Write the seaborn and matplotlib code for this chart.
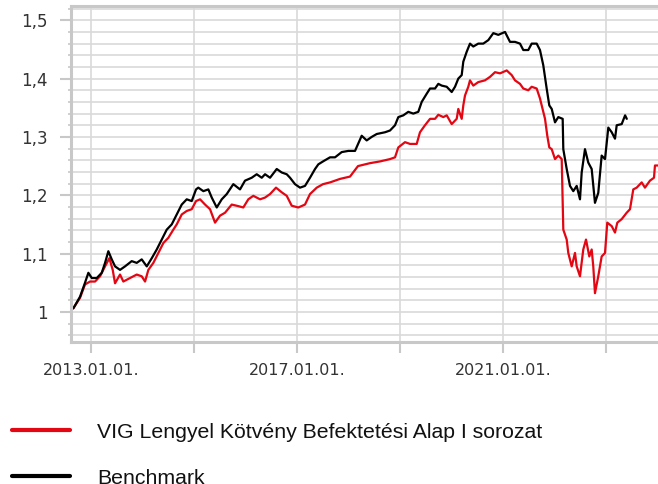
import pandas as pd
import matplotlib
matplotlib.use("Agg")
import matplotlib.pyplot as plt
from matplotlib.ticker import FixedLocator, MultipleLocator, FuncFormatter
from matplotlib.lines import Line2D
import seaborn as sns

fund_name = "VIG Lengyel Kötvény Befektetési Alap I sorozat"
bench_name = "Benchmark"

# decimal years and index values
fund_years = [
    2012.656, 2012.786, 2012.883, 2012.981, 2013.078, 2013.175, 2013.272, 2013.355,
    2013.421, 2013.466, 2013.563, 2013.627, 2013.757, 2013.887, 2013.984, 2014.049,
    2014.113, 2014.210, 2014.307, 2014.404, 2014.501, 2014.598, 2014.664, 2014.761,
    2014.858, 2014.955, 2015.039, 2015.117, 2015.214, 2015.311, 2015.408, 2015.505,
    2015.602, 2015.732, 2015.829, 2015.957, 2016.054, 2016.151, 2016.282, 2016.379,
    2016.476, 2016.592, 2016.703, 2016.800, 2016.897, 2017.025, 2017.155, 2017.252,
    2017.383, 2017.505, 2017.641, 2017.835, 2018.029, 2018.184, 2018.417, 2018.612,
    2018.806, 2018.903, 2018.967, 2019.097, 2019.194, 2019.324, 2019.388, 2019.485,
    2019.583, 2019.680, 2019.744, 2019.841, 2019.907, 2020.004, 2020.101, 2020.132,
    2020.198, 2020.229, 2020.262, 2020.326, 2020.359, 2020.423, 2020.520, 2020.650,
    2020.748, 2020.845, 2020.942, 2021.072, 2021.169, 2021.233, 2021.330, 2021.394,
    2021.491, 2021.557, 2021.654, 2021.718, 2021.816, 2021.860, 2021.899, 2021.946,
    2022.010, 2022.074, 2022.140, 2022.171, 2022.237, 2022.268, 2022.334, 2022.398,
    2022.431, 2022.495, 2022.559, 2022.612, 2022.676, 2022.722, 2022.753, 2022.786,
    2022.850, 2022.916, 2022.981, 2023.025, 2023.111, 2023.175, 2023.220, 2023.305,
    2023.402, 2023.466, 2023.499, 2023.530, 2023.596, 2023.693, 2023.757, 2023.854,
    2023.932, 2023.951, 2024.010,
]
fund_values = [
    1.006, 1.024, 1.047, 1.052, 1.052, 1.061, 1.078, 1.092,
    1.072, 1.049, 1.064, 1.052, 1.058, 1.064, 1.061, 1.052,
    1.072, 1.084, 1.101, 1.118, 1.127, 1.141, 1.150, 1.167,
    1.173, 1.176, 1.190, 1.193, 1.184, 1.176, 1.153, 1.165,
    1.170, 1.184, 1.182, 1.179, 1.193, 1.199, 1.193, 1.196,
    1.202, 1.213, 1.205, 1.199, 1.182, 1.179, 1.184, 1.202,
    1.213, 1.219, 1.222, 1.228, 1.232, 1.250, 1.255, 1.258,
    1.262, 1.265, 1.282, 1.291, 1.288, 1.288, 1.308, 1.320,
    1.331, 1.331, 1.338, 1.334, 1.337, 1.322, 1.331, 1.348,
    1.331, 1.354, 1.371, 1.386, 1.397, 1.388, 1.394, 1.397,
    1.403, 1.411, 1.409, 1.414, 1.406, 1.397, 1.391, 1.383,
    1.380, 1.386, 1.383, 1.366, 1.331, 1.302, 1.282, 1.279,
    1.262, 1.268, 1.262, 1.141, 1.124, 1.101, 1.078, 1.101,
    1.078, 1.061, 1.107, 1.124, 1.095, 1.107, 1.078, 1.032,
    1.061, 1.095, 1.101, 1.153, 1.147, 1.136, 1.153, 1.159,
    1.170, 1.176, 1.193, 1.210, 1.213, 1.222, 1.213, 1.225,
    1.230, 1.251, 1.251,
]

bench_years = [
    2012.656, 2012.786, 2012.883, 2012.948, 2013.014, 2013.111, 2013.208, 2013.272,
    2013.336, 2013.402, 2013.466, 2013.563, 2013.660, 2013.790, 2013.887, 2013.984,
    2014.082, 2014.179, 2014.276, 2014.373, 2014.470, 2014.567, 2014.664, 2014.761,
    2014.858, 2014.955, 2015.039, 2015.083, 2015.181, 2015.278, 2015.344, 2015.441,
    2015.538, 2015.635, 2015.763, 2015.893, 2015.990, 2016.120, 2016.217, 2016.315,
    2016.379, 2016.476, 2016.606, 2016.703, 2016.800, 2016.864, 2016.961, 2017.058,
    2017.155, 2017.252, 2017.350, 2017.414, 2017.505, 2017.641, 2017.738, 2017.868,
    2017.996, 2018.126, 2018.256, 2018.353, 2018.450, 2018.548, 2018.709, 2018.806,
    2018.903, 2018.967, 2019.064, 2019.161, 2019.258, 2019.355, 2019.421, 2019.518,
    2019.583, 2019.680, 2019.744, 2019.810, 2019.907, 2020.004, 2020.068, 2020.132,
    2020.198, 2020.229, 2020.295, 2020.359, 2020.423, 2020.520, 2020.617, 2020.715,
    2020.812, 2020.909, 2021.039, 2021.136, 2021.233, 2021.330, 2021.394, 2021.491,
    2021.557, 2021.654, 2021.718, 2021.782, 2021.848, 2021.899, 2021.946, 2022.010,
    2022.074, 2022.159, 2022.171, 2022.237, 2022.301, 2022.365, 2022.431, 2022.495,
    2022.528, 2022.592, 2022.656, 2022.722, 2022.786, 2022.850, 2022.916, 2022.981,
    2023.045, 2023.111, 2023.175, 2023.208, 2023.305, 2023.371, 2023.404,
]
bench_values = [
    1.006, 1.026, 1.050, 1.067, 1.058, 1.058, 1.067, 1.084,
    1.104, 1.090, 1.078, 1.072, 1.078, 1.087, 1.084, 1.090,
    1.078, 1.092, 1.107, 1.124, 1.141, 1.150, 1.167, 1.184,
    1.193, 1.190, 1.210, 1.213, 1.207, 1.210, 1.196, 1.179,
    1.193, 1.202, 1.219, 1.210, 1.225, 1.230, 1.236, 1.230,
    1.236, 1.230, 1.245, 1.239, 1.236, 1.230, 1.219, 1.213,
    1.216, 1.230, 1.245, 1.253, 1.258, 1.265, 1.265, 1.274,
    1.276, 1.276, 1.302, 1.294, 1.300, 1.305, 1.308, 1.311,
    1.320, 1.334, 1.337, 1.343, 1.340, 1.343, 1.360, 1.374,
    1.383, 1.383, 1.391, 1.388, 1.386, 1.377, 1.386, 1.400,
    1.406, 1.429, 1.446, 1.460, 1.455, 1.460, 1.460, 1.466,
    1.478, 1.475, 1.480, 1.463, 1.463, 1.460, 1.449, 1.449,
    1.460, 1.460, 1.449, 1.423, 1.383, 1.354, 1.348, 1.325,
    1.334, 1.331, 1.279, 1.245, 1.216, 1.207, 1.216, 1.193,
    1.239, 1.279, 1.256, 1.245, 1.187, 1.204, 1.268, 1.262,
    1.316, 1.308, 1.297, 1.320, 1.322, 1.337, 1.331,
]

tick_years = [2013, 2015, 2017, 2019, 2021, 2023]
labelled_years = [2013, 2017, 2021]
y_ticks = [1.0, 1.1, 1.2, 1.3, 1.4, 1.5]

df = pd.concat([
    pd.DataFrame({"year": fund_years, "value": fund_values, "series": fund_name}),
    pd.DataFrame({"year": bench_years, "value": bench_values, "series": bench_name}),
])

colors = {fund_name: "#e30613", bench_name: "#000000"}

sns.set_style("white")
fig = plt.figure(figsize=(6.58, 4.84), dpi=100)
ax = fig.add_axes([0.108, 0.293, 0.892, 0.694])

sns.lineplot(data=df, x="year", y="value", hue="series", palette=colors,
             estimator=None, linewidth=1.6, legend=False, ax=ax)

ax.set_xlim(2012.612, 2024.01)
ax.set_ylim(0.948, 1.524)
ax.set_xlabel("")
ax.set_ylabel("")

grid_c = "#d9d9d9"
ax.xaxis.set_major_locator(FixedLocator(tick_years))
ax.xaxis.set_major_formatter(FuncFormatter(
    lambda v, p: f"{int(round(v))}.01.01." if int(round(v)) in labelled_years else ""))
ax.yaxis.set_major_locator(FixedLocator(y_ticks))
ax.yaxis.set_minor_locator(MultipleLocator(0.02))
ax.yaxis.set_major_formatter(FuncFormatter(
    lambda v, p: ("1" if abs(v - 1) < 1e-6 else f"{v:.1f}".replace(".", ","))))

ax.grid(True, which="major", axis="both", color=grid_c, linewidth=1.2, zorder=0)
ax.grid(True, which="minor", axis="y", color=grid_c, linewidth=1.2, zorder=0)
ax.set_axisbelow(True)

spine_c = "#c8c8c8"
for side in ["left", "bottom", "top"]:
    ax.spines[side].set_color(spine_c)
    ax.spines[side].set_linewidth(2.2)
ax.spines["right"].set_visible(False)

ax.tick_params(axis="y", which="major", direction="out", length=8, width=1.5,
               color=spine_c, pad=9, labelsize=12, labelcolor="#333333", left=True)
ax.tick_params(axis="y", which="minor", direction="out", length=2.5, width=1.2,
               color=spine_c, left=True)
ax.tick_params(axis="x", which="major", direction="out", length=8, width=1.5,
               color=spine_c, pad=7, labelsize=11.5, labelcolor="#333333", bottom=True)

handles = [Line2D([0], [0], color=colors[fund_name], linewidth=3),
           Line2D([0], [0], color=colors[bench_name], linewidth=3)]
fig.legend(handles, [fund_name, bench_name], loc="upper left",
           bbox_to_anchor=(0.018, 0.127), frameon=False,
           prop={"family": "Liberation Sans", "size": 15.3},
           handlelength=2.75, handletextpad=1.25, labelspacing=1.28,
           borderpad=0, borderaxespad=0, labelcolor="#111111")

fig.savefig("out.png", dpi=100)
